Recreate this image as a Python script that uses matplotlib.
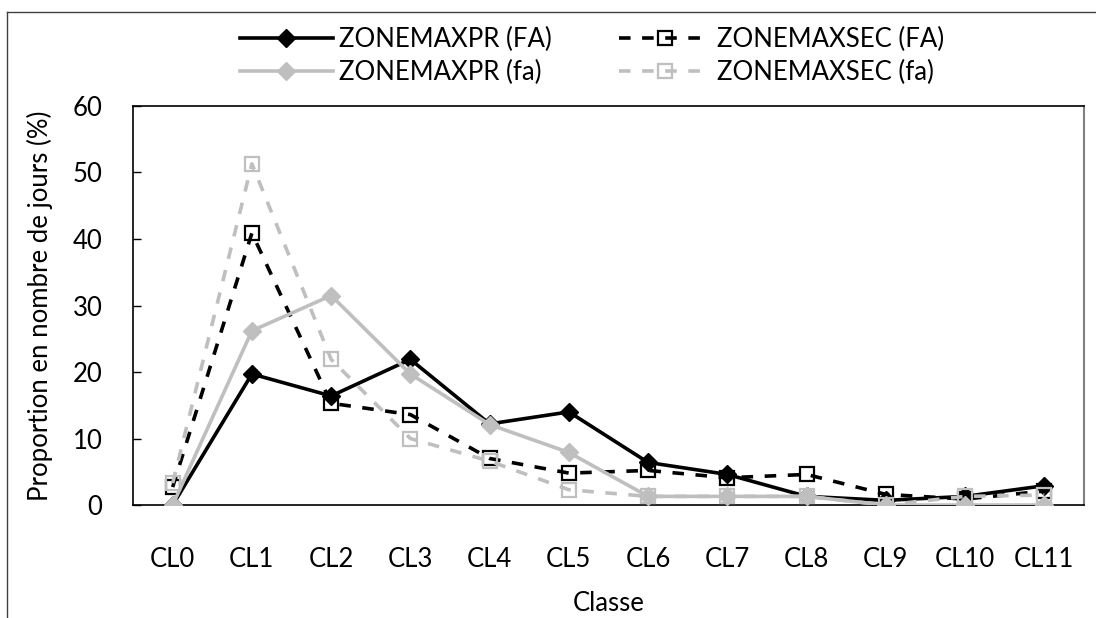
import matplotlib
matplotlib.use("Agg")
import matplotlib.pyplot as plt
from matplotlib.lines import Line2D

plt.rcParams["font.family"] = ["Lato", "DejaVu Sans"]

classes = ["CL0", "CL1", "CL2", "CL3", "CL4", "CL5", "CL6", "CL7", "CL8", "CL9", "CL10", "CL11"]
pr_FA = [0.0, 19.7, 16.4, 21.9, 12.2, 14.0, 6.4, 4.6, 1.3, 0.7, 1.3, 2.9]
sec_FA = [2.7, 40.9, 15.3, 13.6, 7.0, 4.8, 5.2, 4.1, 4.6, 1.6, 0.9, 2.1]
pr_fa = [0.0, 26.2, 31.5, 19.7, 12.1, 7.9, 1.3, 1.3, 1.3, 0.0, 0.0, 0.0]
sec_fa = [3.3, 51.3, 21.9, 10.0, 6.6, 2.3, 1.3, 1.3, 1.3, 0.0, 1.3, 1.5]

GREY = "#bfbfbf"
FS = 18.5

fig = plt.figure(figsize=(10.96, 6.18), dpi=100)
ax = fig.add_axes([0.1214, 0.1828, 0.989 - 0.1214, 0.8285 - 0.1828])

x = list(range(len(classes)))
dash = (0, (3.2, 3.2))

ax.plot(x, pr_FA, color="black", lw=2.6, marker="D", ms=9, mfc="black", mec="black",
        label="ZONEMAXPR (FA)", zorder=3)
ax.plot(x, sec_FA, color="black", lw=2.6, ls=dash, marker="s", ms=10, mfc="none", mec="black",
        mew=1.6, label="ZONEMAXSEC (FA)", zorder=3)
ax.plot(x, pr_fa, color=GREY, lw=2.6, marker="D", ms=9, mfc=GREY, mec=GREY,
        label="ZONEMAXPR (fa)", zorder=4)
ax.plot(x, sec_fa, color=GREY, lw=2.6, ls=dash, marker="s", ms=10, mfc="none", mec=GREY,
        mew=1.6, label="ZONEMAXSEC (fa)", zorder=4)

ax.set_xlim(-0.5, len(classes) - 0.5)
ax.set_ylim(0, 60)
ax.set_yticks(range(0, 61, 10))
ax.set_xticks(x)
ax.set_xticklabels(classes)
ax.tick_params(axis="y", direction="in", length=6, width=1, labelsize=FS, pad=22)
ax.tick_params(axis="x", length=0, labelsize=FS, pad=30)

for side in ["left", "bottom", "top"]:
    ax.spines[side].set_color("black")
    ax.spines[side].set_linewidth(1.2)
ax.spines["right"].set_color("#808080")
ax.spines["right"].set_linewidth(1.5)

ax.set_xlabel("Classe", fontsize=FS, labelpad=14)
ax.set_ylabel("Proportion en nombre de jours (%)", fontsize=FS, labelpad=14)

h, l = ax.get_legend_handles_labels()
order = [0, 2, 1, 3]
ax.legend([h[i] for i in order], [l[i] for i in order], ncol=2, loc="center",
          bbox_to_anchor=(0.483, 1.125), frameon=False, fontsize=FS,
          handlelength=3.6, handletextpad=0.25, columnspacing=2.6, labelspacing=0.3,
          borderaxespad=0)

# outer chart border
fig.add_artist(Line2D([7 / 1096, 7 / 1096], [0, 1 - 12 / 618], color="#404040", lw=1.0,
                      transform=fig.transFigure))
fig.add_artist(Line2D([7 / 1096, 1.0], [1 - 12 / 618, 1 - 12 / 618], color="#404040", lw=1.0,
                      transform=fig.transFigure))

fig.savefig("out.png", dpi=100)
